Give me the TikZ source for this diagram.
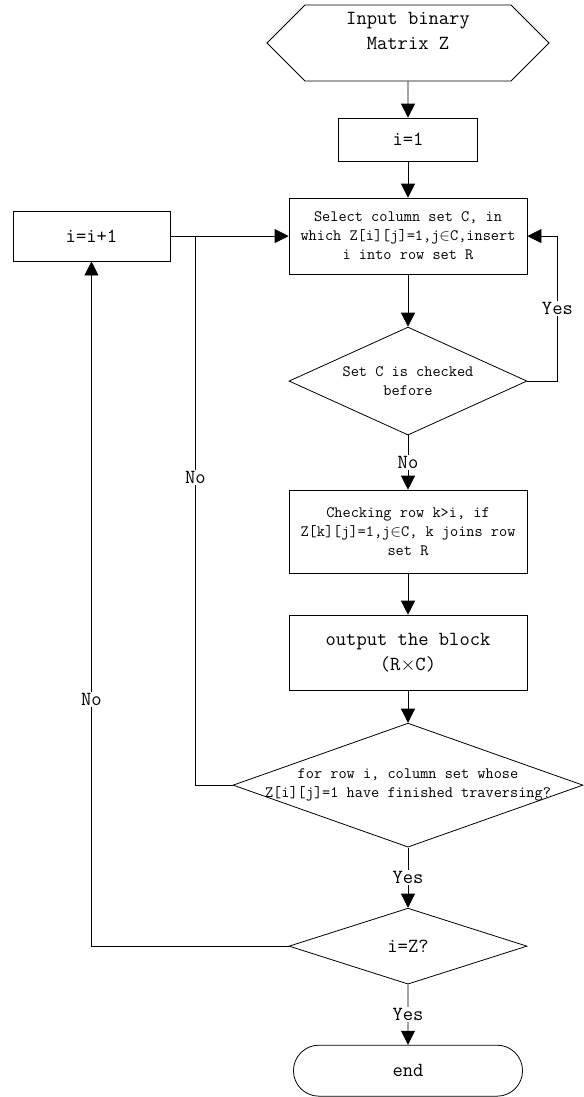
\documentclass[tikz,border=0pt]{standalone}
\usepackage{amssymb}
\usepackage{amsmath}
\usetikzlibrary{arrows.meta,shapes,positioning}

\begin{document}
\begin{tikzpicture}[x=0.75pt,y=-0.75pt,line width=0.6pt,->,>={Triangle[length=10.5pt,width=10.5pt]}]
    \tikzstyle{big}=[font=\ttfamily\fontsize{15}{18.75}\selectfont]
    \tikzstyle{small}=[font=\ttfamily\fontsize{11.9}{14.25}\selectfont]
    \tikzstyle{inputbox}=[signal, signal to=west and east, signal pointer angle=90, draw, align=center, inner sep=0pt, big]
    \tikzstyle{block}=[rectangle, draw, align=center, inner sep=0pt]
    \tikzstyle{decision}=[diamond, draw, align=center, inner sep=0pt, aspect=2.2]
    \tikzstyle{terminal}=[rounded rectangle, draw, align=center, big]
    \tikzstyle{lbl}=[fill=white, inner sep=1pt, big]

    \useasboundingbox (0,0) rectangle (584,1097);

    \node[inputbox, minimum width=211.5pt, minimum height=57pt] (input) at (408,43) {Input binary\\Matrix Z\\\mbox{}};
    \node[block, big, minimum width=104.25pt, minimum height=32.25pt] (init) [below of=input, node distance=72.4pt] {i=1};
    \node[block, small, minimum width=178.5pt, minimum height=57pt] (select) [below of=init, node distance=72.4pt] {Select column set C, in\\which Z[i][j]=1,j$\in$C,insert\\i into row set R};
    \node[block, big, minimum width=117.75pt, minimum height=37.5pt] (next) [left of=select, node distance=237.4pt] {i=i+1};
    \node[decision, small, minimum width=178.5pt, minimum height=81pt] (checked) [below of=select, node distance=108.75pt] {Set C is checked\\before};
    \node[block, small, minimum width=178.5pt, minimum height=62.25pt] (rows) [below of=checked, node distance=112.9pt] {Checking row k>i, if\\Z[k][j]=1,j$\in$C, k joins row\\set R};
    \node[block, big, minimum width=178.5pt, minimum height=56.25pt] (output) [below of=rows, node distance=90.75pt] {output the block\\(R$\times$C)};
    \node[decision, minimum width=262.5pt, minimum height=93pt, label={[small,align=center]center:for row i, column set whose\\Z[i][j]=1 have finished traversing?}] (finished) [below of=output, node distance=99.4pt] {};
    \node[decision, big, minimum width=178.5pt, minimum height=57pt] (last) [below of=finished, node distance=120.75pt] {i=Z?};
    \node[terminal, minimum width=178.5pt, minimum height=38.25pt] (end) [below of=last, node distance=93.4pt] {end};

    \coordinate[right=18.75pt of next.east] (join);

    \path (input) edge (init);
    \path (init) edge (select);
    \path (select) edge (checked);
    \path (checked) edge node[lbl] {No} (rows);
    \path (rows) edge (output);
    \path (output) edge (finished);
    \path (finished) edge node[lbl] {Yes} (last);
    \path (last) edge node[lbl] {Yes} (end);
    \path (next) edge (select);

    \draw (checked.east) -- ++(30,0) |- node[lbl, pos=0.25] {Yes} (select.east);
    \draw[-] (finished.west) -| node[lbl, pos=0.78] {No} (join);
    \draw (last.west) -| node[lbl, pos=0.68] {No} (next.south);

  \end{tikzpicture}
\end{document}
